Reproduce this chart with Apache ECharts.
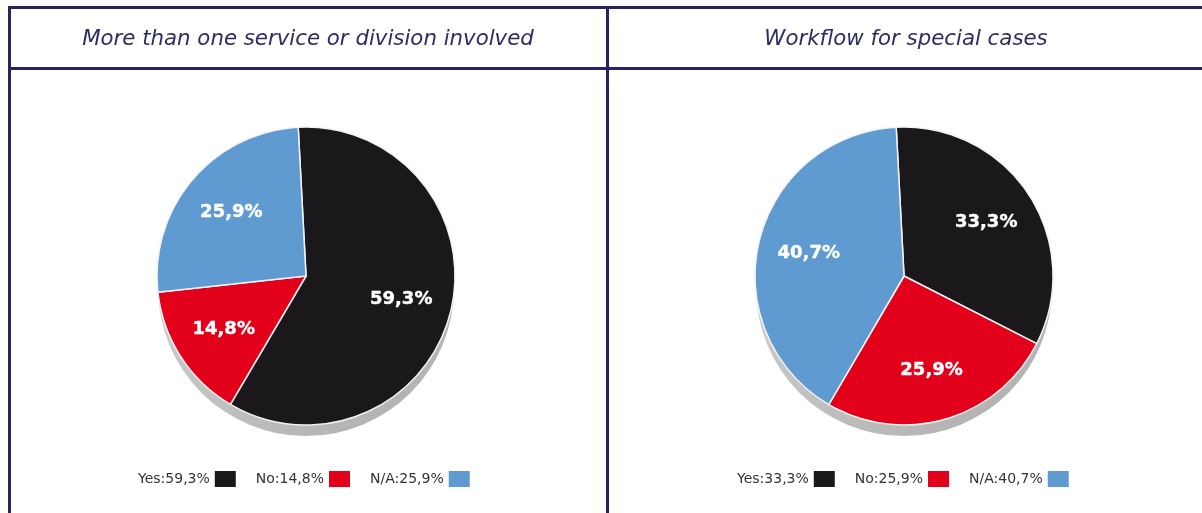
<!DOCTYPE html>
<html>
<head>
<meta charset="utf-8">
<script src="https://cdn.jsdelivr.net/npm/echarts@6/dist/echarts.min.js"></script>
<style>
  html, body { margin: 0; padding: 0; background: #fff; }
  #chart { width: 1202px; height: 513px; }
</style>
</head>
<body>
<div id="chart"></div>
<script>
// 数据
var categories = ['Yes', 'No', 'N/A'];
var leftTitle = 'More than one service or division involved';
var leftValues = [59.3, 14.8, 25.9];
var rightTitle = 'Workflow for special cases';
var rightValues = [33.3, 25.9, 40.7];

var colors = ['#1b181c', '#e2001a', '#5f9bd0'];
var navy = '#25275c';

function fmt(v) {
    return v.toFixed(1).replace('.', ',') + '%';
}

function pieData(values, transparent) {
    return categories.map(function (c, i) {
        return { name: c, value: values[i], itemStyle: { color: transparent ? 'rgba(0,0,0,0)' : colors[i] } };
    });
}

var shadowColor = new echarts.graphic.LinearGradient(0, 0, 1, 1, [
    { offset: 0, color: '#dadada' },
    { offset: 0.5, color: '#c2c2c2' },
    { offset: 1, color: '#adadad' }
]);

// 饼图主体
function mainPie(values, center) {
    return {
        type: 'pie', z: 3, silent: true,
        center: center, radius: [0, 149],
        startAngle: 93, clockwise: true,
        itemStyle: { borderColor: '#f2f2f2', borderWidth: 1.5 },
        label: { show: false }, labelLine: { show: false },
        data: pieData(values, false)
    };
}

// 阴影
function shadowPie(center) {
    return {
        type: 'pie', z: 1, silent: true,
        center: [center[0], center[1] + 12], radius: [0, 148],
        label: { show: false }, labelLine: { show: false },
        itemStyle: { color: shadowColor },
        data: [{ name: 'shadow', value: 1 }]
    };
}

// 标签（透明扇区，只用于放置标签）
function labelPie(values, center) {
    return {
        type: 'pie', z: 4, silent: true,
        center: center, radius: [0, 190],
        startAngle: 93, clockwise: true,
        label: {
            show: true, position: 'inside', color: '#fff',
            fontFamily: 'DejaVu Sans', fontWeight: 'bold', fontSize: 18,
            textBorderColor: '#fff', textBorderWidth: 0.4,
            formatter: function (p) { return fmt(p.value); }
        },
        labelLine: { show: false },
        data: pieData(values, true)
    };
}

function legend(left, values) {
    return {
        left: left, top: 471, padding: 0, orient: 'horizontal',
        align: 'right', itemGap: 20, itemWidth: 21, itemHeight: 16,
        selectedMode: false, icon: 'rect',
        data: categories,
        itemStyle: { borderWidth: 0 },
        textStyle: { fontFamily: 'DejaVu Sans', fontSize: 14, color: '#333' },
        formatter: function (name) {
            return name + ':' + fmt(values[categories.indexOf(name)]);
        }
    };
}

function line(x, y, w, h) {
    return { type: 'rect', silent: true, shape: { x: x, y: y, width: w, height: h }, style: { fill: navy } };
}

function title(text, x) {
    return {
        type: 'text', silent: true, x: x, y: 39,
        style: {
            text: text, textAlign: 'center', textVerticalAlign: 'middle',
            font: 'italic 21.3px "DejaVu Sans"', fill: '#2b2d63'
        }
    };
}

var leftCenter = [306, 276];
var rightCenter = [904, 276];

var option = {
    animation: false,
    legend: [legend(138, leftValues), legend(737, rightValues)],
    graphic: [
        line(8, 6, 1194, 3),
        line(8, 67, 1194, 3),
        line(8, 6, 3, 507),
        line(606, 6, 3, 507),
        title(leftTitle, 308),
        title(rightTitle, 906)
    ],
    series: [
        mainPie(leftValues, leftCenter),
        mainPie(rightValues, rightCenter),
        shadowPie(leftCenter),
        shadowPie(rightCenter),
        labelPie(leftValues, leftCenter),
        labelPie(rightValues, rightCenter)
    ]
};

var chart = echarts.init(document.getElementById('chart'));
chart.setOption(option);
</script>
</body>
</html>
